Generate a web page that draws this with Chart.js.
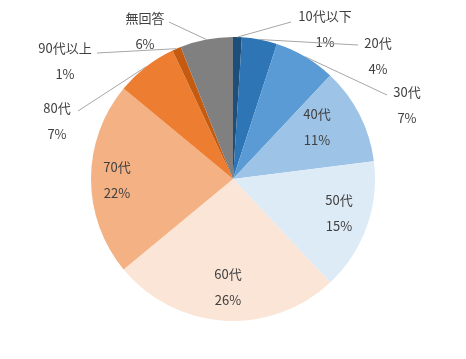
<!DOCTYPE html>
<html lang="ja">
<head>
    <meta charset="UTF-8">
    <title>年代別</title>
    <style>
        body { margin: 0; padding: 0; background: #ffffff; }
        .chart-container { width: 466px; height: 359px; position: relative; }
    </style>
</head>
<body>
    <div class="chart-container">
        <canvas id="ageChart"></canvas>
    </div>

    <script src="https://cdn.jsdelivr.net/npm/chart.js"></script>
    <script>
        const labels = ['10代以下', '20代', '30代', '40代', '50代', '60代', '70代', '80代', '90代以上', '無回答'];
        const percents = [1, 4, 7, 11, 15, 26, 22, 7, 1, 6];
        const colors = ['#1f4e79', '#2e75b6', '#5b9bd5', '#9dc3e6', '#ddebf7',
                        '#fbe5d6', '#f4b183', '#ed7d31', '#c55a11', '#808080'];

        // where each label block sits (centre x, y of first line); leader start if outside
        const labelPos = [
            { x: 325, y: 16, lead: [291, 22] },
            { x: 378, y: 43, lead: [358, 45] },
            { x: 407, y: 92, lead: [387, 95] },
            { x: 317, y: 114 },
            { x: 339, y: 200 },
            { x: 228, y: 274 },
            { x: 117, y: 167 },
            { x: 57, y: 108, lead: [78, 111] },
            { x: 65, y: 48, lead: [97, 53] },
            { x: 145, y: 18, lead: [169, 22] }
        ];

        const labelPlugin = {
            id: 'pieLabels',
            afterDatasetsDraw(chart) {
                const ctx = chart.ctx;
                const meta = chart.getDatasetMeta(0);
                ctx.save();
                ctx.font = '13px "Noto Sans CJK JP", sans-serif';
                ctx.fillStyle = '#404040';
                ctx.textAlign = 'center';
                ctx.textBaseline = 'middle';
                meta.data.forEach((arc, i) => {
                    const p = labelPos[i];
                    if (p.lead) {
                        const mid = (arc.startAngle + arc.endAngle) / 2;
                        const ex = arc.x + arc.outerRadius * Math.cos(mid);
                        const ey = arc.y + arc.outerRadius * Math.sin(mid);
                        ctx.strokeStyle = '#a6a6a6';
                        ctx.lineWidth = 1;
                        ctx.beginPath();
                        ctx.moveTo(p.lead[0], p.lead[1]);
                        ctx.lineTo(ex, ey);
                        ctx.stroke();
                    }
                    ctx.fillText(labels[i], p.x, p.y);
                    ctx.fillText(percents[i] + '%', p.x, p.y + 26);
                });
                ctx.restore();
            }
        };

        const ctx = document.getElementById('ageChart').getContext('2d');
        new Chart(ctx, {
            type: 'pie',
            data: {
                labels: labels,
                datasets: [{
                    data: percents,
                    backgroundColor: colors,
                    borderWidth: 0
                }]
            },
            options: {
                responsive: true,
                maintainAspectRatio: false,
                animation: false,
                layout: { padding: { top: 37, bottom: 38 } },
                plugins: {
                    legend: { display: false },
                    tooltip: { enabled: false }
                }
            },
            plugins: [labelPlugin]
        });
    </script>
</body>
</html>
